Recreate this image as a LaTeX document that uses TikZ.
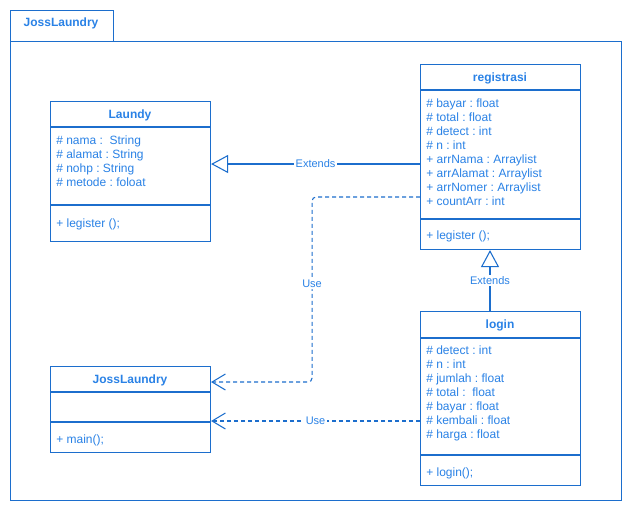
\documentclass[tikz,border=0pt]{standalone}
\usepackage{fontspec}
\setmainfont{Liberation Sans}
\usetikzlibrary{arrows.meta,calc}
\definecolor{umlline}{RGB}{28,110,205}
\definecolor{umltext}{RGB}{42,130,230}

% one compartment of member rows: name prefix, x, y of first row, rows
\newcommand\umlrows[4]{%
  \foreach \t [count=\i] in {#4}
    \node[member] (#1-\i) at (#2,{#3+14*(\i-1)}) {\t};}

\begin{document}
\frenchspacing
\begin{tikzpicture}[x=0.75pt,y=-0.75pt,
  frame/.style={draw=umlline, line width=0.8pt, fill=white, inner sep=0pt, anchor=north west},
  sep/.style={draw=umlline, line width=0.8pt},
  member/.style={anchor=west, inner sep=0pt, text=umltext,
    font=\fontsize{9pt}{10.5pt}\selectfont, text height=6.5pt, text depth=0pt},
  title/.style={inner sep=0pt, text=umltext,
    font=\fontsize{9pt}{10.5pt}\selectfont\bfseries, text height=6.5pt, text depth=0pt},
  lbl/.style={fill=white, inner sep=1pt, text=umltext,
    font=\fontsize{8.25pt}{10pt}\selectfont},
  ext/.style={draw=umlline, line width=0.8pt,
    -{Triangle[open, length=12.75pt, width=13.5pt]}},
  use/.style={draw=umlline, line width=0.8pt, dash pattern=on 3pt off 2.25pt,
    -{Straight Barb[length=10pt, width=12pt]}}]

\useasboundingbox (0,0) rectangle (632,512);
\fill[white] (0,0) rectangle (632,512);

% package frame with its tab
\node[frame, minimum width=458.25pt, minimum height=344.25pt] (pkg) at (10,41) {};
\node[frame, minimum width=77.25pt, minimum height=23.25pt] (tab) at (10,10) {};
\node[title] (tabname) at (61,22.5) {JossLaundry};

% class Laundy
\node[frame, minimum width=120pt, minimum height=105pt] (laundy) at (50,101) {};
\draw[sep] ($(laundy.north west)+(0,26)$) -- ($(laundy.north east)+(0,26)$);
\draw[sep] ($(laundy.north west)+(0,104)$) -- ($(laundy.north east)+(0,104)$);
\node[title] (laundy-name) at (130,114.5) {Laundy};
\umlrows{la}{56}{140}{{\# nama :\ \ String},{\# alamat : String},{\# nohp : String},{\# metode : foloat}}
\node[member] (la-op) at (56,223) {+ legister ();};

% class registrasi
\node[frame, minimum width=120pt, minimum height=138.75pt] (registrasi) at (420,64) {};
\draw[sep] ($(registrasi.north west)+(0,26)$) -- ($(registrasi.north east)+(0,26)$);
\draw[sep] ($(registrasi.north west)+(0,155)$) -- ($(registrasi.north east)+(0,155)$);
\node[title] (registrasi-name) at (500,77.5) {registrasi};
\umlrows{re}{426}{103.5}{{\# bayar : float},{\# total : float},{\# detect : int},{\# n : int},{+ arrNama : Arraylist},{+ arrAlamat : Arraylist},{+ arrNomer : Arraylist},{+ countArr : int}}
\node[member] (re-op) at (426,235.5) {+ legister ();};

% class login
\node[frame, minimum width=120pt, minimum height=130.5pt] (login) at (420,311) {};
\draw[sep] ($(login.north west)+(0,27)$) -- ($(login.north east)+(0,27)$);
\draw[sep] ($(login.north west)+(0,144)$) -- ($(login.north east)+(0,144)$);
\node[title] (login-name) at (500,324.5) {login};
\umlrows{lo}{426}{350}{{\# detect : int},{\# n : int},{\# jumlah : float},{\# total :\ \ float},{\# bayar : float},{\# kembali : float},{\# harga : float}}
\node[member] (lo-op) at (426,472) {+ login();};

% class JossLaundry
\node[frame, minimum width=120pt, minimum height=64.5pt] (jl) at (50,366) {};
\draw[sep] ($(jl.north west)+(0,26)$) -- ($(jl.north east)+(0,26)$);
\draw[sep] ($(jl.north west)+(0,56)$) -- ($(jl.north east)+(0,56)$);
\node[title] (jl-name) at (130,379) {JossLaundry};
\node[member] (jl-op) at (56,439.5) {+ main();};

% generalisations
\draw[ext] ($(registrasi.north west)+(0,100)$) -- node[lbl] (ext1) {Extends}
  ($(laundy.north east)+(0,63)$);
\draw[ext] ($(login.north west)+(70,0)$) -- node[lbl] (ext2) {Extends}
  ($(registrasi.south west)+(70,0)$);

% dependencies
\draw[use, rounded corners=3pt] ($(registrasi.north west)+(0,133)$)
  -- ($(laundy.north east)+(101,96)$)
  -- node[lbl, pos=0.47] (use1) {Use} ($(jl.north east)+(101,16)$)
  -- ($(jl.north east)+(0,16)$);
\draw[use] ($(login.north west)+(0,110)$) -- node[lbl] (use2) {Use}
  ($(jl.north east)+(0,55)$);
\end{tikzpicture}
\end{document}
